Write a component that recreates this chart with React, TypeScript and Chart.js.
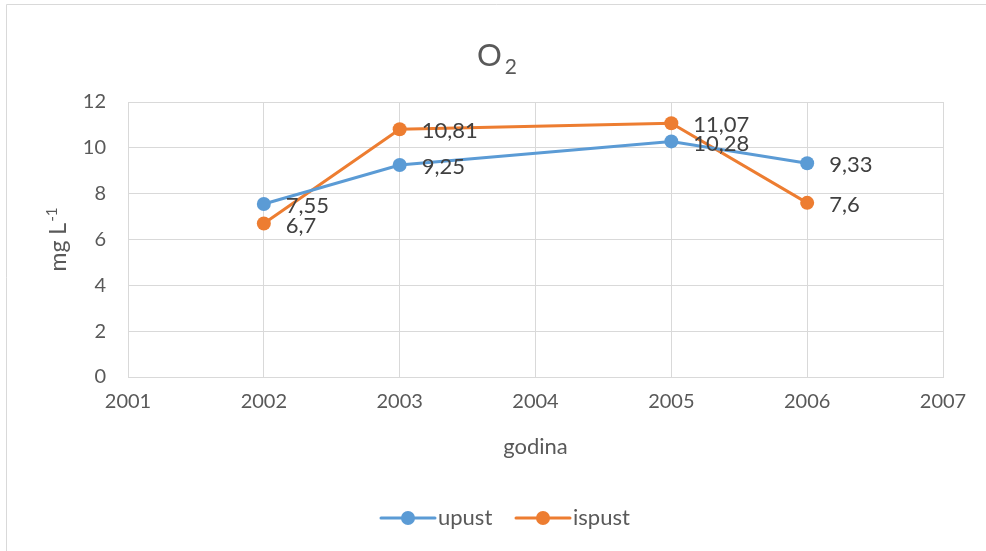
import React, { useEffect, useRef } from "react";
import { Chart, registerables } from "chart.js";

Chart.register(...registerables);

const years = [2002, 2003, 2005, 2006];
const upust = [7.55, 9.25, 10.28, 9.33];
const ispust = [6.7, 10.81, 11.07, 7.6];
const upustLabels = ["7,55", "9,25", "10,28", "9,33"];
const ispustLabels = ["6,7", "10,81", "11,07", "7,6"];
const seriesNames = ["upust", "ispust"];
const xMin = 2001;
const xMax = 2007;
const yMin = 0;
const yMax = 12;

const BLUE = "#5b9bd5";
const ORANGE = "#ed7d31";
const FONT = "Lato, 'Open Sans', sans-serif";
const TEXT = "#595959";

const decor = {
  id: "decor",
  afterDraw(chart: any) {
    const ctx = chart.ctx;
    const area = chart.chartArea;
    ctx.save();
    // outer border (left + top)
    ctx.strokeStyle = "#d9d9d9";
    ctx.lineWidth = 1;
    ctx.beginPath();
    ctx.moveTo(6.5, 551);
    ctx.lineTo(6.5, 4.5);
    ctx.lineTo(986, 4.5);
    ctx.stroke();

    // title O2
    ctx.fillStyle = TEXT;
    ctx.textBaseline = "alphabetic";
    ctx.textAlign = "left";
    ctx.font = `31px ${FONT}`;
    const oW = ctx.measureText("O").width;
    ctx.font = `21px ${FONT}`;
    const twoW = ctx.measureText("2").width;
    const total = oW + 3 + twoW;
    const tx = 497 - total / 2;
    ctx.font = `31px ${FONT}`;
    ctx.fillText("O", tx, 66);
    ctx.font = `21px ${FONT}`;
    ctx.fillText("2", tx + oW + 3, 74);

    // y axis title
    ctx.save();
    ctx.translate(66, 240);
    ctx.rotate(-Math.PI / 2);
    ctx.font = `23px ${FONT}`;
    const mW = ctx.measureText("mg L").width;
    ctx.font = `15px ${FONT}`;
    const sW = ctx.measureText("-1").width;
    const st = -(mW + sW) / 2;
    ctx.font = `23px ${FONT}`;
    ctx.fillText("mg L", st, 0);
    ctx.font = `15px ${FONT}`;
    ctx.fillText("-1", st + mW + 1, -9);
    ctx.restore();

    // x axis title
    ctx.font = `22px ${FONT}`;
    ctx.textAlign = "center";
    ctx.textBaseline = "middle";
    ctx.fillText("godina", (area.left + area.right) / 2, 447);

    // data labels
    ctx.textAlign = "left";
    ctx.fillStyle = "#404040";
    ctx.font = `22px ${FONT}`;
    const lbls = [upustLabels, ispustLabels];
    chart.data.datasets.forEach((ds: any, di: number) => {
      const meta = chart.getDatasetMeta(di);
      meta.data.forEach((pt: any, i: number) => {
        ctx.fillText(lbls[di][i], pt.x + 22, pt.y + 2);
      });
    });

    // legend
    const items = [
      { name: seriesNames[0], color: BLUE, x0: 381 },
      { name: seriesNames[1], color: ORANGE, x0: 516 },
    ];
    const ly = 518;
    items.forEach((it) => {
      ctx.strokeStyle = it.color;
      ctx.lineWidth = 3;
      ctx.lineCap = "round";
      ctx.beginPath();
      ctx.moveTo(it.x0, ly);
      ctx.lineTo(it.x0 + 54, ly);
      ctx.stroke();
      ctx.fillStyle = it.color;
      ctx.beginPath();
      ctx.arc(it.x0 + 27, ly, 7, 0, Math.PI * 2);
      ctx.fill();
      ctx.fillStyle = TEXT;
      ctx.font = `22px ${FONT}`;
      ctx.textBaseline = "middle";
      ctx.fillText(it.name, it.x0 + 57, ly);
    });
    ctx.restore();
  },
};

export default function App() {
  const ref = useRef<HTMLCanvasElement>(null);
  useEffect(() => {
    if (!ref.current) return;
    const mk = (vals: number[]) => vals.map((v, i) => ({ x: years[i], y: v }));
    const chart = new Chart(ref.current, {
      type: "line",
      data: {
        datasets: [
          {
            label: seriesNames[0],
            data: mk(upust),
            borderColor: BLUE,
            backgroundColor: BLUE,
            borderWidth: 3,
            pointRadius: 7,
            pointHoverRadius: 7,
            pointBorderWidth: 0,
          },
          {
            label: seriesNames[1],
            data: mk(ispust),
            borderColor: ORANGE,
            backgroundColor: ORANGE,
            borderWidth: 3,
            pointRadius: 7,
            pointHoverRadius: 7,
            pointBorderWidth: 0,
          },
        ],
      },
      options: {
        animation: false,
        responsive: false,
        maintainAspectRatio: false,
        layout: { padding: { top: 102, right: 43, left: 0, bottom: 0 } },
        plugins: {
          legend: { display: false },
          title: { display: false },
          tooltip: { enabled: false },
        },
        scales: {
          x: {
            type: "linear",
            min: xMin,
            max: xMax,
            ticks: {
              stepSize: 1,
              padding: 13,
              color: TEXT,
              font: { family: FONT, size: 20 },
              callback: (v: any) => String(v),
            },
            grid: { color: "#d9d9d9", drawTicks: false, lineWidth: 1 },
            border: { color: "#d9d9d9" },
            afterFit: (s: any) => {
              s.height = 551 - 377;
            },
          },
          y: {
            min: yMin,
            max: yMax,
            ticks: {
              stepSize: 2,
              padding: 22,
              color: TEXT,
              font: { family: FONT, size: 20 },
            },
            grid: { color: "#d9d9d9", drawTicks: false, lineWidth: 1 },
            border: { display: false },
            afterFit: (s: any) => {
              s.width = 128;
            },
          },
        },
      },
      plugins: [decor],
    });
    return () => chart.destroy();
  }, []);
  return (
    <div style={{ position: "absolute", left: 0, top: 0, width: 986, height: 551, background: "#fff" }}>
      <canvas ref={ref} width={986} height={551} style={{ display: "block" }} />
    </div>
  );
}
